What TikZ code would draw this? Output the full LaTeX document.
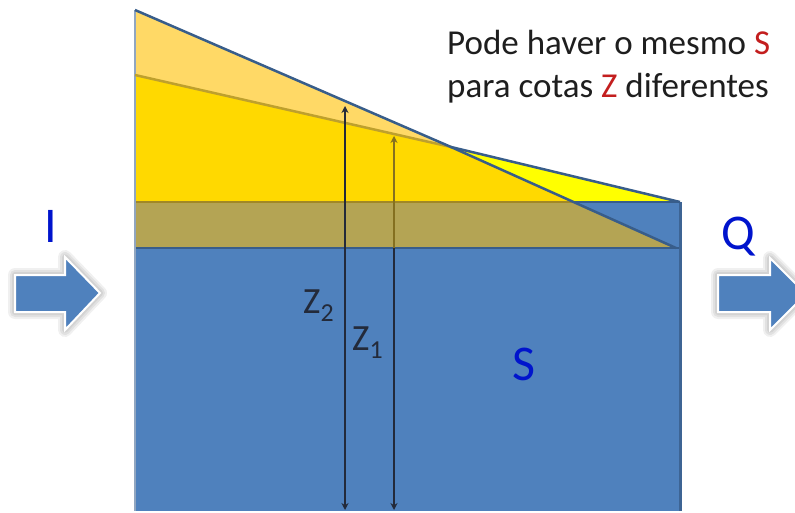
\documentclass[tikz,border=0pt]{standalone}
\usepackage{fontspec}
\setmainfont{Carlito}
\usetikzlibrary{arrows.meta}
\definecolor{wblue}{RGB}{79,129,189}
\definecolor{olive2}{RGB}{180,164,84}
\definecolor{gold2}{RGB}{255,217,0}
\definecolor{lorange}{RGB}{255,217,102}
\definecolor{byellow}{RGB}{255,255,0}
\definecolor{dline}{RGB}{56,93,138}
\definecolor{ochre}{RGB}{190,160,45}
\definecolor{zdark}{RGB}{35,42,58}
\definecolor{lblue}{RGB}{0,20,205}
\definecolor{tred}{RGB}{195,30,30}
\definecolor{tgray}{RGB}{30,30,30}
\begin{document}
\begin{tikzpicture}[x=1pt,y=-1pt,
  bigarrow/.style={fill=wblue,draw=white,line width=2pt,line join=miter},
  glow/.style={draw=black,line width=#1,opacity=0.06,line join=round},
  zarrow/.style={line width=2.8pt,draw=zdark},
  tip/.style={-{Stealth[length=7pt,width=7pt]}},
  lbl/.style={inner sep=0pt,text=lblue,font=\fontsize{50}{50}\selectfont},
  zlbl/.style={inner sep=0pt,text=zdark,font=\fontsize{37}{37}\selectfont}]
\useasboundingbox (0,0) rectangle (795,513);
\fill[white] (0,0) rectangle (795,513);
% key points
\coordinate (P1) at (135,10);
\coordinate (X) at (451,147);
\coordinate (P3) at (680,202);
\coordinate (Q1) at (135,75);
\coordinate (Q3) at (676,248);
\coordinate (C) at (573,202);
\coordinate (BL) at (135,202);
\coordinate (BR) at (680,248);
\coordinate (WL) at (135,248);
\coordinate (BotL) at (135,511);
\coordinate (BotR) at (680,511);
% fills
\fill[wblue] (WL) rectangle (BotR);
\fill[lorange] (P1) -- (X) -- (Q1) -- cycle;
\fill[gold2] (Q1) -- (X) -- (C) -- (BL) -- cycle;
\fill[byellow] (X) -- (P3) -- (C) -- cycle;
\fill[olive2] (BL) -- (C) -- (Q3) -- (WL) -- cycle;
\fill[wblue] (C) -- (P3) -- (BR) -- (Q3) -- cycle;
% border lines
\draw[draw=ochre!85!black,line width=1.8pt] (BL) -- (C);
\draw[draw=dline,line width=1.8pt] (C) -- (P3);
\draw[draw=dline,line width=2pt] (WL) -- (BR);
\draw[draw=wblue!60!gray!70,line width=2.5pt] (P1) -- (BotL);
\draw[draw=dline!80!wblue,line width=3pt] (P3) -- (BotR);
\draw[draw=ochre,line width=2.5pt] (Q1) -- (X);
\draw[draw=dline,line width=2.5pt] (X) -- (Q3);
\draw[draw=dline,line width=2.5pt] (P1) -- (X) -- (P3);
% Z arrows
\coordinate (z2t) at (345,106);
\coordinate (z2b) at (345,510);
\coordinate (z1t) at (394,136);
\coordinate (z1m) at (394,248);
\coordinate (z1b) at (394,510);
\draw[zarrow,{Stealth[length=7pt,width=7pt]}-{Stealth[length=7pt,width=7pt]}] (z2t) -- (z2b);
\draw[zarrow,draw=ochre!70!black,{Stealth[length=7pt,width=7pt]}-] (z1t) -- (z1m);
\draw[zarrow,tip] (z1m) -- (z1b);
% labels
\node[zlbl,anchor=base west] (z2lbl) at (303,313) {Z\textsubscript{2}};
\node[zlbl,anchor=base west] (z1lbl) at (352,350) {Z\textsubscript{1}};
\node[lbl,anchor=base] (slbl) at (524,380) {S};
\node[lbl,anchor=base] (ilbl) at (51,243) {I};
\node[lbl,anchor=base] (qlbl) at (738,250) {Q};
\node[inner sep=0pt,anchor=base west,text=tgray,align=left,
  font=\fontsize{35}{43}\selectfont] (note) at (447,98)
  {Pode haver o mesmo \textcolor{tred}{S}\\para cotas \textcolor{tred}{Z} diferentes};
% block arrows
\foreach \w in {14,10,6}{
  \draw[glow=\w pt] (15,275) -- (65,275) -- (65,257) -- (100,293) -- (65,330) -- (65,312) -- (15,312) -- cycle;
  \draw[glow=\w pt] (718,275) -- (770,275) -- (770,258) -- (806,294) -- (770,330) -- (770,312) -- (718,312) -- cycle;
}
\draw[bigarrow] (15,275) -- (65,275) -- (65,257) -- (100,293) -- (65,330) -- (65,312) -- (15,312) -- cycle;
\draw[bigarrow] (718,275) -- (770,275) -- (770,258) -- (806,294) -- (770,330) -- (770,312) -- (718,312) -- cycle;
\end{tikzpicture}
\end{document}
